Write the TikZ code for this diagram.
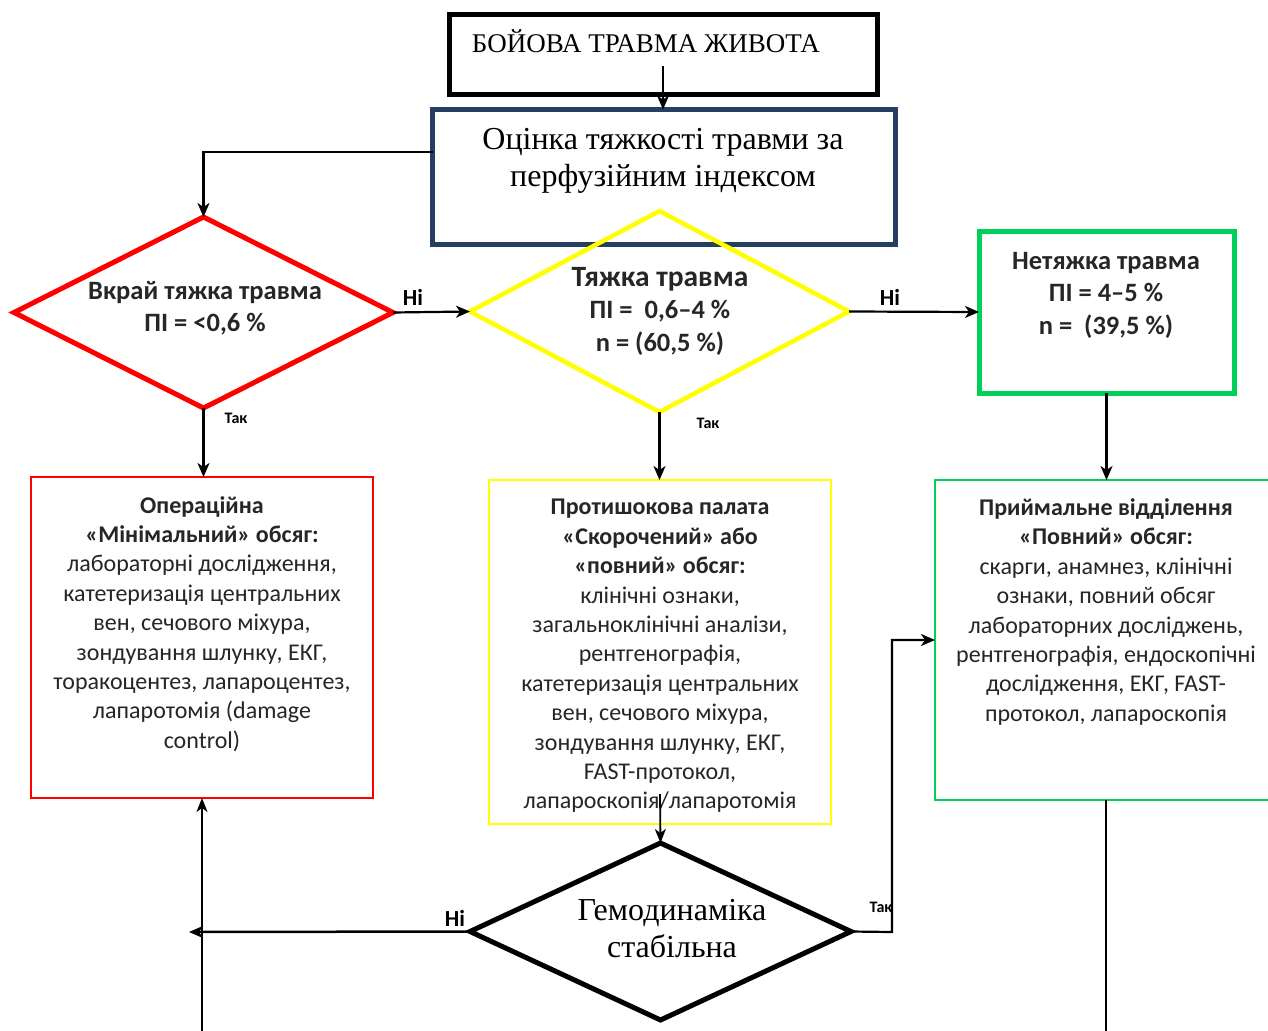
\documentclass[tikz,border=0pt]{standalone}
\usepackage{fontspec}
\setmainfont{Liberation Serif}
\newfontfamily\carl{Carlito}
\usetikzlibrary{shapes.geometric,arrows.meta,calc}
\definecolor{cred}{HTML}{FF0000}
\definecolor{cyel}{HTML}{FFFF00}
\definecolor{cgrn}{HTML}{00D05A}
\definecolor{cblu}{HTML}{243F60}
\definecolor{ctxt}{HTML}{262626}
\begin{document}
\begin{tikzpicture}[x=1pt,y=-1pt,
  arr/.style={-{Stealth[length=14pt,width=12pt,inset=4pt]},line width=2.2pt},
  thin arr/.style={-{Stealth[length=14pt,width=11pt,inset=4pt]},line width=1.8pt},
  dia/.style={diamond,inner sep=0pt,outer sep=0pt,line width=5pt,draw},
  box/.style={rectangle,inner sep=0pt,outer sep=0pt,draw},
  hd/.style={font=\carl\bfseries\fontsize{26.5}{32.5}\selectfont,text=ctxt,align=center,inner sep=0pt},
  body/.style={font=\carl\fontsize{24}{29.4}\selectfont,text=ctxt,align=center,inner sep=0pt},
  lab/.style={font=\carl\bfseries\fontsize{23}{26}\selectfont,inner sep=0pt},
  slab/.style={font=\carl\bfseries\fontsize{16}{18}\selectfont,inner sep=0pt},
  serif/.style={font=\fontsize{32}{37}\selectfont,align=center,inner sep=0pt}
]
\useasboundingbox[fill=white] (0,0) rectangle (1268,1030);

% top box
\node[box,line width=5pt,minimum width=428,minimum height=80] (top) at (663.5,54.5) {};
\node[font=\fontsize{27}{32}\selectfont,inner sep=0pt] (toptxt) at (646,41) {БОЙОВА ТРАВМА ЖИВОТА};

% evaluation box
\node[box,draw=cblu,line width=5pt,minimum width=463,minimum height=135] (eval) at (664,177) {};
\node[serif] (evaltxt) at (663,161) {Оцінка тяжкості травми за\\перфузійним індексом};

% red diamond
\node[dia,draw=cred,minimum width=379,minimum height=191] (rd) at (203.5,312.5) {};
\node[hd] (rdtxt) at (205,308) {Вкрай тяжка травма\\ПІ = <0,6 \%};

% yellow diamond
\node[dia,draw=cyel,line width=4.5pt,minimum width=379,minimum height=201] (yd) at (659.5,311.5) {};
\node[hd] (ydtxt) at (660,311) {{\fontsize{29.5}{33}\selectfont Тяжка травма}\\ПІ = \ 0,6–4 \%\\n = (60,5 \%)};

% green top box
\node[box,draw=cgrn,line width=5pt,minimum width=255,minimum height=162] (gt) at (1106.5,312) {};
\node[hd] (gttxt) at (1106,295) {Нетяжка травма\\ПІ = 4–5 \%\\n = \ (39,5 \%)};

% red box
\node[box,draw=cred,line width=2.5pt,minimum width=342,minimum height=321] (rb) at (202,637.5) {};
\node[body] (rbtxt) at (202,624) {{\bfseries Операційна}\\{\bfseries «Мінімальний» обсяг:}\\лабораторні дослідження,\\катетеризація центральних\\вен, сечового міхура,\\зондування шлунку, ЕКГ,\\торакоцентез, лапароцентез,\\лапаротомія (damage\\control)};

% yellow box
\node[box,draw=cyel,line width=2.5pt,minimum width=342,minimum height=344] (yb) at (660,652) {};
\node[body] (ybtxt) at (660,656) {{\bfseries Протишокова палата}\\{\bfseries «Скорочений» або}\\{\bfseries «повний» обсяг:}\\клінічні ознаки,\\загальноклінічні аналізи,\\рентгенографія,\\катетеризація центральних\\вен, сечового міхура,\\зондування шлунку, ЕКГ,\\FAST-протокол,\\лапароскопія/лапаротомія};

% green box
\node[box,draw=cgrn,line width=2.5pt,minimum width=345,minimum height=320] (gb) at (1107.5,640) {};
\node[body] (gbtxt) at (1106,612) {{\bfseries Приймальне відділення}\\{\bfseries «Повний» обсяг:}\\скарги, анамнез, клінічні\\ознаки, повний обсяг\\лабораторних досліджень,\\рентгенографія, ендоскопічні\\дослідження, ЕКГ, FAST-\\протокол, лапароскопія};

% black diamond
\node[dia,minimum width=381,minimum height=177] (gd) at (660.5,931.5) {};
\node[serif] (gdtxt) at (672,929) {Гемодинаміка\\стабільна};

% coordinates
\coordinate (c1) at (663,66);
\coordinate (gdl) at (189,932);
\coordinate (rbot) at (202,1032);
\coordinate (gbot) at (1106,1032);
\coordinate (bend) at (892,932);

% connectors
\draw[arr,line width=1.8pt] (c1) -- (c1 |- eval.north);
\draw[arr] ([yshift=25pt]eval.west) -| (rd.north);
\draw[arr] (rd.east) -- (yd.west);
\draw[arr] (yd.east) -- (gt.west);
\draw[arr] (rd.south) -- (rd.south |- rb.north);
\draw[arr] (yd.south) -- (yd.south |- yb.north);
\draw[arr] (gt.south) -- (gt.south |- gb.north);
\draw[thin arr] ([yshift=30pt]yb.south) -- (gd.north);
\draw[arr,line width=2.5pt] (gd.west) -- (gdl);
\draw[thin arr] (rbot) -- (rbot |- rb.south);
\draw[arr] (gd.east) -- (bend) |- (gb.west);
\draw[line width=1.8pt] (gbot |- gb.south) -- (gbot);

% labels
\node[lab] (l1) at (413,297) {Ні};
\node[lab] (l2) at (890,297) {Ні};
\node[lab] (l3) at (455,918) {Ні};
\node[slab] (l4) at (236,418) {Так};
\node[slab] (l5) at (708,423) {Так};
\node[slab] (l6) at (881,907) {Так};
\end{tikzpicture}
\end{document}
